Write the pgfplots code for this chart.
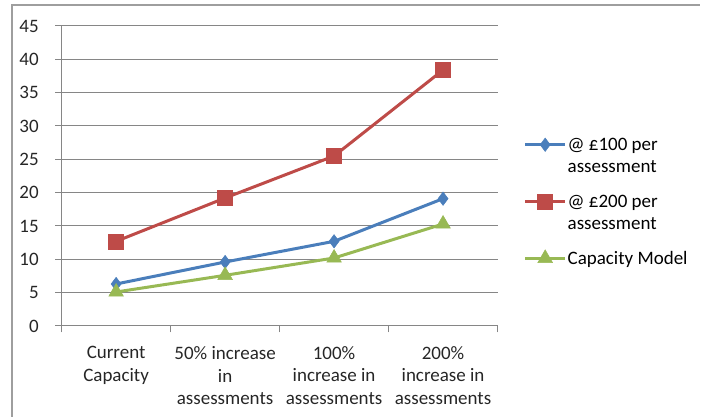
\documentclass[border=0pt]{standalone}
\usepackage{pgfplots}
\pgfplotsset{compat=1.18}
\usepackage{fontspec}
\setmainfont{Carlito}
\definecolor{sblue}{HTML}{4A7EBB}
\definecolor{sred}{HTML}{BE4B48}
\definecolor{sgreen}{HTML}{98B954}
\definecolor{gridc}{HTML}{868686}
\newcommand{\lent}[1]{\raisebox{0pt}[14.5pt][5.5pt]{\vtop{\baselineskip=22pt #1}}}
\begin{document}
\begin{tikzpicture}[x=1pt,y=1pt]
\fontsize{19}{22.5}\selectfont
\path (0,0) rectangle (701,417);
\draw[gridc!80, line width=1.3pt] (12,0) -- (12,412) -- (701,412);
\begin{axis}[
  at={(61.7pt,90.7pt)}, anchor=south west,
  scale only axis, width=436.3pt, height=300.3pt,
  xmin=-0.5, xmax=3.5, ymin=0, ymax=45,
  ytick={0,5,...,45},
  yticklabel={\fontsize{19}{22.5}\selectfont\pgfmathprintnumber{\tick}},
  xtick={-0.5,0.5,1.5,2.5,3.5}, xticklabels={},
  extra x ticks={0,1,2,3},
  extra x tick labels={Current\\Capacity, 50\% increase\\in\\assessments, 100\%\\increase in\\assessments, 200\%\\increase in\\assessments},
  extra x tick style={major tick length=0pt, grid=none,
    tick label style={align=center, font=\fontsize{19}{22.5}\selectfont, yshift=-14pt}},
  axis x line*=bottom, axis y line*=left,
  axis line style={gridc, line width=1pt},
  tick style={gridc, line width=1pt},
  major tick length=6.5pt,
  tick align=outside,
  ymajorgrids, grid style={gridc, line width=1pt},
  tick label style={font=\fontsize{19}{22.5}\selectfont, text=black!85},
  yticklabel style={xshift=-10pt},
  /pgf/number format/assume math mode=true,
  legend style={at={(1,1)}, anchor=north west, xshift=26pt, yshift=-109pt, draw=none, fill=none,
    font=\fontsize{19}{22.5}\selectfont, row sep=37.5pt, inner sep=0pt,
    nodes={inner sep=1pt}},
  legend cell align=left,
  legend image code/.code={\draw[#1] (0pt,0pt) -- (20pt,0pt) plot coordinates {(20pt,0pt)} -- (40pt,0pt);},
  clip=false,
]
\addplot[sblue, line width=3pt, mark=diamond*, mark size=6.7pt, mark options={line width=0.5pt}] coordinates {(0,6.3) (1,9.6) (2,12.7) (3,19.1)};
\addlegendentry{\lent{\hbox{@ £100 per}\hbox{assessment}}}
\addplot[sred, line width=3pt, mark=square*, mark size=7.5pt, mark options={line width=0.5pt}] coordinates {(0,12.7) (1,19.2) (2,25.5) (3,38.4)};
\addlegendentry{\lent{\hbox{@ £200 per}\hbox{assessment}}}
\addplot[sgreen, line width=3pt, mark=triangle*, mark size=8.5pt, mark options={line width=0.5pt}] coordinates {(0,5.1) (1,7.6) (2,10.2) (3,15.3)};
\addlegendentry{\lent{\hbox{Capacity Model}}}
\end{axis}
\end{tikzpicture}
\end{document}
